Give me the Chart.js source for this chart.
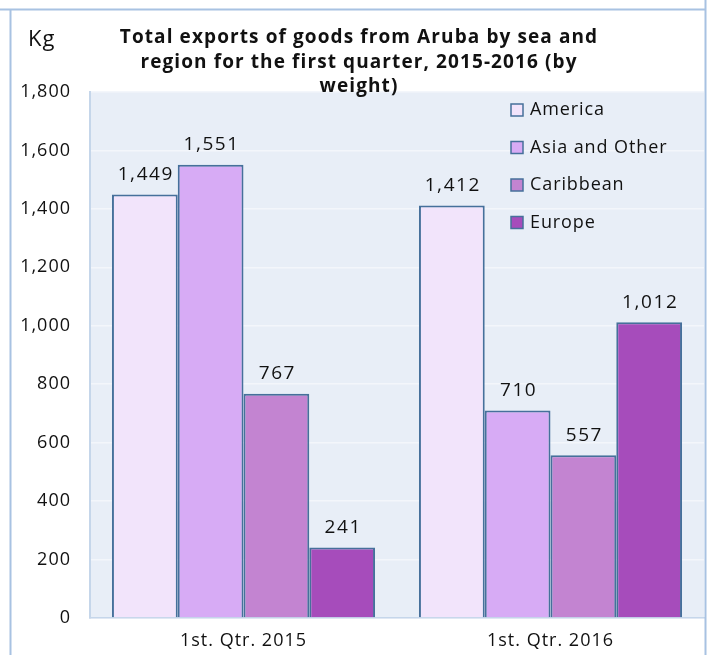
<!DOCTYPE html>
<html>
<head>
<meta charset="utf-8">
<script src="https://cdn.jsdelivr.net/npm/chart.js@4"></script>
<style>
  html, body { margin: 0; padding: 0; background: #ffffff; }
  #wrap { width: 709px; height: 655px; }
</style>
</head>
<body>
<div id="wrap"><canvas id="chart" width="709" height="655"></canvas></div>
<script>
// Exports by sea, first quarter (Kg)
const quarters = ['1st. Qtr. 2015', '1st. Qtr. 2016'];
const regions = ['America', 'Asia and Other', 'Caribbean', 'Europe'];
const america = [1449, 1412];
const asiaOther = [1551, 710];
const caribbean = [767, 557];
const europe = [241, 1012];
const yTicks = [0, 200, 400, 600, 800, 1000, 1200, 1400, 1600, 1800];

const titleLines = ['Total exports of goods from Aruba by sea and', 'region for the first quarter, 2015-2016 (by', 'weight)'];
const unitLabel = 'Kg';

const fillColors = ['#f2e4fb', '#d7abf5', '#c384d1', '#a64cbb'];
const edgeColor = '#46709b';
const fontFamily = '"Open Sans", "Noto Sans", sans-serif';
const axisSpacing = '1px';

Chart.defaults.font.family = fontFamily;
Chart.defaults.color = '#111111';

// the reference text is set a little loose, widen the axis text to match
const spacing = {
    id: 'spacing',
    beforeUpdate(chart) { chart.ctx.letterSpacing = axisSpacing; },
    beforeDraw(chart) { chart.ctx.letterSpacing = axisSpacing; }
};

// plot background + outer frame
const backdrop = {
    id: 'backdrop',
    beforeDraw(chart) {
        const { ctx, chartArea } = chart;
        ctx.save();
        ctx.fillStyle = '#e8eef7';
        ctx.fillRect(chartArea.left, chartArea.top, chartArea.right - chartArea.left, chartArea.bottom - chartArea.top);
        ctx.restore();
    },
    afterDraw(chart) {
        const ctx = chart.ctx;
        ctx.save();
        ctx.strokeStyle = '#a8c2e2';
        ctx.lineWidth = 2;
        ctx.beginPath();
        ctx.moveTo(0, 9.5);
        ctx.lineTo(706, 9.5);
        ctx.moveTo(10.5, 9.5);
        ctx.lineTo(10.5, 655);
        ctx.moveTo(705.5, 0);
        ctx.lineTo(705.5, 655);
        ctx.stroke();
        ctx.restore();
    }
};

// value labels above each bar
const barValues = {
    id: 'barValues',
    afterDatasetsDraw(chart) {
        const ctx = chart.ctx;
        ctx.save();
        ctx.letterSpacing = '1.6px';
        ctx.font = '19px ' + fontFamily;
        ctx.fillStyle = '#111111';
        ctx.textAlign = 'center';
        ctx.textBaseline = 'middle';
        chart.data.datasets.forEach((ds, i) => {
            chart.getDatasetMeta(i).data.forEach((bar, j) => {
                ctx.fillText(ds.data[j].toLocaleString('en-US'), bar.x + 1, bar.y - 20);
            });
        });
        ctx.restore();
    }
};

// title, unit label and legend box
const annotations = {
    id: 'annotations',
    afterDraw(chart) {
        const ctx = chart.ctx;
        ctx.save();
        ctx.fillStyle = '#111111';
        ctx.textBaseline = 'middle';
        ctx.textAlign = 'center';
        ctx.letterSpacing = '1.1px';
        ctx.font = 'bold 19px ' + fontFamily;
        titleLines.forEach((line, i) => ctx.fillText(line, 359, 38 + i * 24.5));

        ctx.textAlign = 'left';
        ctx.letterSpacing = '1px';
        ctx.font = '22px ' + fontFamily;
        ctx.fillText(unitLabel, 28, 40);

        ctx.letterSpacing = '0.9px';
        ctx.font = '18px ' + fontFamily;
        chart.data.datasets.forEach((ds, i) => {
            const y = 110 + i * 37.5;
            ctx.fillStyle = ds.backgroundColor;
            ctx.fillRect(511, y - 6, 12, 12);
            ctx.strokeStyle = edgeColor;
            ctx.lineWidth = 1.5;
            ctx.strokeRect(511, y - 6, 12, 12);
            ctx.fillStyle = '#111111';
            ctx.fillText(ds.label, 530, y);
        });
        ctx.restore();
    }
};

const seriesValues = [america, asiaOther, caribbean, europe];

new Chart(document.getElementById('chart'), {
    type: 'bar',
    data: {
        labels: quarters,
        datasets: regions.map((name, i) => ({
            label: name,
            data: seriesValues[i],
            backgroundColor: fillColors[i],
            borderColor: edgeColor,
            borderWidth: 2,
            categoryPercentage: 0.857,
            barPercentage: 1.0
        }))
    },
    options: {
        responsive: false,
        animation: false,
        layout: { padding: { top: 92, right: 5, left: 0, bottom: 0 } },
        plugins: {
            legend: { display: false },
            tooltip: { enabled: false },
            title: { display: false }
        },
        scales: {
            x: {
                grid: { display: false, drawTicks: false },
                border: { display: true, color: '#c5d6ea', width: 1.5 },
                ticks: { font: { size: 18 }, padding: 12, color: '#111111' },
                afterFit(scale) { scale.height = 37; }
            },
            y: {
                min: 0,
                max: 1800,
                afterBuildTicks(scale) { scale.ticks = yTicks.map(v => ({ value: v })); },
                grid: { color: '#f3f6fb', lineWidth: 1.5, drawTicks: false },
                border: { display: true, color: '#c5d6ea', width: 2 },
                ticks: { font: { size: 18 }, padding: 19, color: '#111111' },
                afterFit(scale) { scale.width = 90; }
            }
        }
    },
    plugins: [spacing, backdrop, barValues, annotations]
});
</script>
</body>
</html>
